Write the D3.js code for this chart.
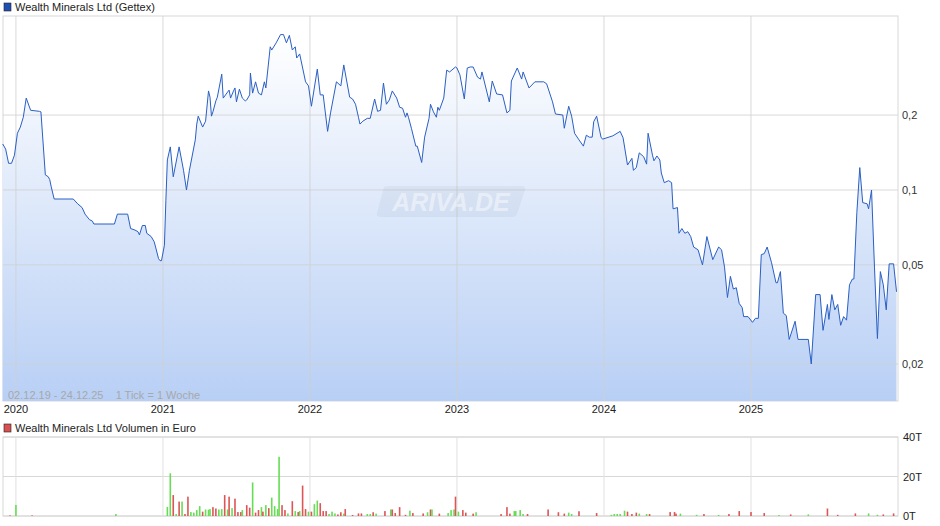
<!DOCTYPE html>
<html>
<head>
<meta charset="utf-8">
<script src="https://cdn.jsdelivr.net/npm/d3@7"></script>
<style>
body { margin: 0; background: #fff; }
svg text { font-family: "Liberation Sans", Arial, sans-serif; white-space: pre; }
</style>
</head>
<body>
<svg id="chart" width="940" height="526"></svg>
<script>
// price, decimal year / EUR (weekly close, Gettex)
var priceDates = [2019.91,2019.93,2019.95,2019.97,2019.99,2020.01,2020.03,2020.05,2020.07,2020.10,2020.16,2020.17,2020.20,2020.22,2020.23,2020.24,2020.26,2020.39,2020.42,2020.45,2020.47,2020.50,2020.52,2020.53,2020.67,2020.69,2020.76,2020.78,2020.81,2020.83,2020.84,2020.86,2020.88,2020.89,2020.92,2020.94,2020.95,2020.97,2020.98,2020.99,
2021.01,2021.02,2021.03,2021.05,2021.07,2021.11,2021.14,2021.16,2021.18,2021.22,2021.23,2021.24,2021.27,2021.29,2021.31,2021.32,2021.33,2021.34,2021.36,2021.37,2021.40,2021.41,2021.43,2021.45,2021.46,2021.48,2021.49,2021.50,2021.52,2021.54,2021.56,2021.57,2021.59,2021.595,2021.61,2021.63,2021.65,2021.67,2021.69,2021.70,2021.73,2021.74,2021.77,2021.80,2021.82,2021.84,2021.86,2021.88,2021.90,2021.91,2021.93,2021.97,2021.99,
2022.01,2022.05,2022.07,2022.09,2022.12,2022.14,2022.18,2022.21,2022.23,2022.27,2022.29,2022.31,2022.33,2022.34,2022.36,2022.39,2022.41,2022.44,2022.46,2022.48,2022.50,2022.52,2022.54,2022.56,2022.59,2022.61,2022.63,2022.65,2022.66,2022.67,2022.69,2022.72,2022.73,2022.76,2022.78,2022.81,2022.82,2022.84,2022.86,2022.87,2022.88,2022.91,2022.93,2022.95,2022.99,
2023.00,2023.02,2023.05,2023.07,2023.09,2023.11,2023.14,2023.16,2023.17,2023.22,2023.24,2023.27,2023.31,2023.34,2023.36,2023.37,2023.41,2023.44,2023.45,2023.49,2023.53,2023.59,2023.61,2023.65,2023.67,2023.72,2023.73,2023.76,2023.78,2023.80,2023.83,2023.86,2023.88,2023.90,2023.92,2023.93,2023.95,2023.98,2023.99,
2024.06,2024.11,2024.13,2024.16,2024.19,2024.20,2024.22,2024.24,2024.27,2024.29,2024.30,2024.33,2024.34,2024.36,2024.38,2024.39,2024.41,2024.44,2024.46,2024.47,2024.50,2024.51,2024.53,2024.55,2024.57,2024.59,2024.61,2024.64,2024.67,2024.70,2024.74,2024.78,2024.80,2024.82,2024.84,2024.86,2024.88,2024.90,2024.92,2024.94,2024.95,2024.98,
2025.01,2025.03,2025.05,2025.07,2025.09,2025.11,2025.14,2025.17,2025.18,2025.20,2025.22,2025.24,2025.26,2025.30,2025.32,2025.39,2025.41,2025.44,2025.47,2025.49,2025.52,2025.53,2025.55,2025.57,2025.59,2025.61,2025.63,2025.65,2025.67,2025.69,2025.70,2025.72,2025.74,2025.76,2025.79,2025.80,2025.82,2025.84,2025.86,2025.88,2025.90,2025.92,2025.94,2025.97,2025.99];
var priceValues = [0.153,0.146,0.128,0.128,0.138,0.169,0.179,0.196,0.234,0.209,0.207,0.206,0.115,0.113,0.110,0.103,0.092,0.092,0.088,0.085,0.080,0.076,0.075,0.073,0.073,0.080,0.080,0.070,0.069,0.068,0.066,0.072,0.072,0.067,0.065,0.062,0.059,0.053,0.052,0.052,
0.060,0.091,0.132,0.149,0.113,0.149,0.120,0.100,0.120,0.159,0.184,0.198,0.179,0.189,0.250,0.236,0.198,0.206,0.228,0.236,0.292,0.234,0.243,0.252,0.234,0.250,0.257,0.226,0.254,0.234,0.228,0.230,0.241,0.295,0.245,0.272,0.245,0.241,0.272,0.257,0.376,0.365,0.390,0.421,0.421,0.390,0.418,0.365,0.376,0.339,0.352,0.272,0.262,
0.217,0.306,0.241,0.241,0.172,0.204,0.272,0.262,0.318,0.236,0.232,0.221,0.196,0.184,0.189,0.194,0.194,0.232,0.207,0.209,0.269,0.221,0.230,0.250,0.234,0.215,0.213,0.196,0.204,0.196,0.177,0.150,0.150,0.129,0.163,0.194,0.221,0.206,0.196,0.215,0.209,0.234,0.303,0.298,0.312,
0.309,0.290,0.232,0.309,0.312,0.312,0.284,0.279,0.298,0.226,0.274,0.243,0.241,0.204,0.209,0.274,0.309,0.279,0.298,0.257,0.272,0.272,0.267,0.226,0.202,0.200,0.177,0.217,0.198,0.169,0.159,0.150,0.166,0.163,0.163,0.188,0.198,0.163,0.160,
0.165,0.172,0.162,0.126,0.134,0.120,0.123,0.141,0.136,0.127,0.169,0.138,0.131,0.137,0.132,0.117,0.107,0.109,0.107,0.084,0.085,0.067,0.070,0.067,0.068,0.065,0.059,0.0575,0.050,0.065,0.0525,0.059,0.0575,0.049,0.037,0.045,0.040,0.0405,0.035,0.0337,0.031,0.031,
0.0294,0.0305,0.0305,0.055,0.0555,0.059,0.051,0.0424,0.0424,0.047,0.032,0.0313,0.0251,0.0297,0.0251,0.0251,0.020,0.038,0.038,0.0273,0.0347,0.0302,0.038,0.033,0.0347,0.0286,0.031,0.030,0.0416,0.0439,0.0439,0.081,0.123,0.089,0.088,0.084,0.100,0.049,0.0253,0.047,0.0416,0.033,0.0505,0.0505,0.039];

// volume in thousand EUR, up = green week
var volDates = [2019.96,2020.00,2020.11,2020.68,2021.03,2021.05,2021.07,2021.09,2021.11,2021.13,2021.15,2021.17,2021.19,2021.21,2021.23,2021.25,2021.27,2021.29,2021.31,2021.32,2021.34,2021.36,2021.38,2021.40,2021.42,2021.44,2021.45,2021.47,2021.49,2021.51,2021.53,2021.54,2021.57,2021.59,2021.61,2021.63,2021.65,2021.67,2021.68,2021.70,2021.72,2021.74,2021.76,2021.78,2021.79,2021.81,2021.83,2021.85,2021.88,2021.90,2021.92,2021.93,2021.95,2021.97,2021.99,
2022.01,2022.03,2022.05,2022.07,2022.09,2022.11,2022.13,2022.15,2022.17,2022.19,2022.21,2022.23,2022.24,2022.29,2022.33,2022.35,2022.39,2022.41,2022.43,2022.45,2022.51,2022.55,2022.56,2022.58,2022.61,2022.65,2022.68,2022.70,2022.77,2022.80,2022.82,2022.83,2022.88,2022.94,2022.96,2022.98,2022.99,
2023.01,2023.04,2023.06,2023.11,2023.13,2023.30,2023.34,2023.36,2023.39,2023.40,2023.43,2023.45,2023.48,2023.62,2023.69,2023.73,2023.76,2023.78,2023.83,2023.95,
2024.05,2024.07,2024.09,2024.11,2024.14,2024.16,2024.19,2024.22,2024.24,2024.29,2024.31,2024.45,2024.48,2024.49,2024.52,2024.63,2024.68,2024.78,2024.85,2024.92,
2025.00,2025.09,2025.19,2025.27,2025.39,2025.52,2025.59,2025.71,2025.80,2025.86,2025.90,2025.97];
var volValues = [0.3,5.6,0.3,1,4.6,21.6,10.6,1,7.3,7.3,1,9.8,2,1.7,3,5,2.2,3.3,3.2,3.5,4.5,3.8,3.3,3.5,10.6,3.3,9.8,4,8.8,2,2,3,5.5,4.2,17,1.7,3,4.5,2.2,5.5,4,9.3,5,3.5,30,5.5,3,1.3,7.5,2.5,2,2.5,15.4,3.5,2.2,
2.2,6,7.8,6.5,2.5,2.5,1,2.2,1.3,0.8,1.9,1.2,3.5,0.5,1.3,1.3,1,1,1.9,1.2,2.5,3.3,3.3,1.5,4.5,0.6,2.7,1.5,1.3,1.9,3.3,3.3,1.2,1.5,3,3.3,9.8,
2.2,3,1.7,1.2,1.9,1,4.5,1.2,2.5,2.5,3,1,1,3.3,1.9,1.2,1.7,1,2.4,1.5,
0.6,1,1,1,2.7,2.2,1,1.7,1.2,1,1,2,2,1.2,1.2,0.6,1,0.5,1,2.5,
2,1.5,0.5,0.8,0.8,3.8,0.6,1.3,1.3,0.6,0.8,1.3];
var volUp = ("rgrg" + "ggrgrgrrggggrgggrrggrgrgrrrgrrgrrgrgrggggrrgrgrgrrg" +
  "rggrrrgggrrgrrrrggrgrgrrrrgrrgrgrgggrg" + "rrrgrrrggggrrrrggrrg" +
  "ggggrrrggrrrrggrgrrr" + "rgrgrrrggrrg").split("");

var years = [2020, 2021, 2022, 2023, 2024, 2025];
var priceTicks = [0.2, 0.1, 0.05, 0.02];
var volTicks = [0, 20, 40];

var svg = d3.select("#chart");
var left = 3, right = 898;

var x = d3.scaleLinear().domain([2019.912, 2026]).range([left, right]);
var y = d3.scaleLog().domain([0.0142, 0.5]).range([401, 16]);
var yv = d3.scaleLinear().domain([0, 40]).range([516, 437]);

var prices = priceDates.map(function(d, i) { return [d, priceValues[i]]; });

/* gradient for the area */
var grad = svg.append("defs").append("linearGradient")
  .attr("id", "fill").attr("x1", 0).attr("y1", 0).attr("x2", 0).attr("y2", 1);
grad.append("stop").attr("offset", "0%").attr("stop-color", "#ffffff");
grad.append("stop").attr("offset", "100%").attr("stop-color", "#b8cff5");

/* price panel */
svg.append("rect").attr("x", left).attr("y", 16).attr("width", right - left).attr("height", 385)
  .attr("fill", "none").attr("stroke", "#d8d8d8");

svg.append("path").datum(prices)
  .attr("fill", "url(#fill)")
  .attr("d", d3.area().x(function(d) { return x(d[0]); }).y0(401).y1(function(d) { return y(d[1]); }));

svg.append("g").selectAll("line").data(priceTicks).enter().append("line")
  .attr("x1", left).attr("x2", right)
  .attr("y1", function(d) { return y(d); }).attr("y2", function(d) { return y(d); })
  .attr("stroke", "#d0d0d0").attr("stroke-opacity", 0.8);
svg.append("g").selectAll("line").data(years).enter().append("line")
  .attr("x1", function(d) { return x(d); }).attr("x2", function(d) { return x(d); })
  .attr("y1", 16).attr("y2", 401)
  .attr("stroke", "#d0d0d0").attr("stroke-opacity", 0.8);

// watermark
svg.append("path")
  .attr("d", "M384,187 Q386,186 390,186 L522,186 Q526,186 525,190 L517,214 Q516,217 512,217 L381,217 Q376,217 377,213 Z")
  .attr("fill", "#5a7090").attr("opacity", 0.07);
svg.append("text").attr("x", 451).attr("y", 211).attr("text-anchor", "middle")
  .attr("font-size", 25).attr("font-style", "italic").attr("font-weight", "bold")
  .attr("fill", "#fff").attr("opacity", 0.45).text("ARIVA.DE");

svg.append("path").datum(prices)
  .attr("fill", "none").attr("stroke", "#2a5fc4").attr("stroke-width", 1)
  .attr("d", d3.line().x(function(d) { return x(d[0]); }).y(function(d) { return y(d[1]); }));

svg.append("g").selectAll("text").data(priceTicks).enter().append("text")
  .attr("x", 902).attr("y", function(d) { return y(d) + 4; })
  .attr("font-size", 11).attr("fill", "#333")
  .text(function(d) { return String(d).replace(".", ","); });

svg.append("g").selectAll("text").data(years).enter().append("text")
  .attr("x", function(d) { return x(d); }).attr("y", 413).attr("text-anchor", "middle")
  .attr("font-size", 11).attr("fill", "#222").text(function(d) { return d; });

svg.append("text").attr("x", 8).attr("y", 399).attr("font-size", 11).attr("fill", "#a8a8a8")
  .attr("xml:space", "preserve")
  .text("02.12.19 - 24.12.25    1 Tick = 1 Woche");

svg.append("rect").attr("x", 4).attr("y", 3).attr("width", 7).attr("height", 8)
  .attr("fill", "#1e50b4").attr("stroke", "#222").attr("stroke-width", 0.6);
svg.append("text").attr("x", 15).attr("y", 11).attr("font-size", 11).attr("fill", "#222")
  .text("Wealth Minerals Ltd (Gettex)");

/* volume panel */
svg.append("rect").attr("x", 4).attr("y", 424).attr("width", 7).attr("height", 8)
  .attr("fill", "#d85050").attr("stroke", "#222").attr("stroke-width", 0.6);
svg.append("text").attr("x", 15).attr("y", 432).attr("font-size", 11).attr("fill", "#222")
  .text("Wealth Minerals Ltd Volumen in Euro");

svg.append("rect").attr("x", left).attr("y", 437).attr("width", right - left).attr("height", 79)
  .attr("fill", "none").attr("stroke", "#d8d8d8");
svg.append("g").selectAll("line").data(volTicks).enter().append("line")
  .attr("x1", left).attr("x2", right)
  .attr("y1", function(d) { return yv(d); }).attr("y2", function(d) { return yv(d); })
  .attr("stroke", "#d8d8d8");
svg.append("g").selectAll("line").data(years).enter().append("line")
  .attr("x1", function(d) { return x(d); }).attr("x2", function(d) { return x(d); })
  .attr("y1", 437).attr("y2", 516).attr("stroke", "#e0e0e0");

svg.append("g").selectAll("rect").data(volDates).enter().append("rect")
  .attr("x", function(d) { return x(d) - 0.8; })
  .attr("width", 1.6)
  .attr("y", function(d, i) { return yv(volValues[i]); })
  .attr("height", function(d, i) { return yv(0) - yv(volValues[i]); })
  .attr("fill", function(d, i) { return volUp[i] === "g" ? "#66dd55" : "#dd5555"; });

svg.append("g").selectAll("text").data(volTicks).enter().append("text")
  .attr("x", 903).attr("y", function(d) { return yv(d) + 4; })
  .attr("font-size", 11).attr("fill", "#222").text(function(d) { return d + "T"; });
</script>
</body>
</html>
